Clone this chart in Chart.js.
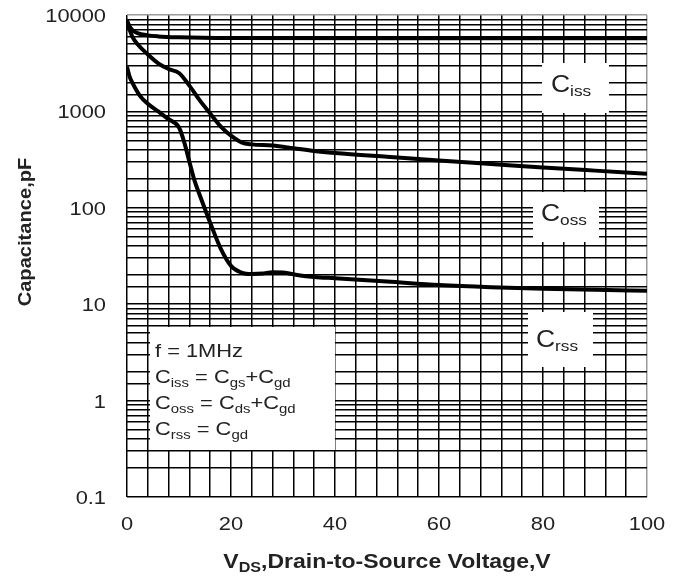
<!DOCTYPE html>
<html>
<head>
<meta charset="utf-8">
<script src="https://cdn.jsdelivr.net/npm/chart.js@4.4.1/dist/chart.umd.min.js"></script>
<style>
  html, body { margin: 0; padding: 0; background: #fff; }
  #wrap { width: 681px; height: 577px; }
</style>
</head>
<body>
<div id="wrap"><canvas id="cap" width="681" height="577"></canvas></div>
<script>
// capacitance vs VDS, f = 1MHz
const vdsCiss = [0, 0.5, 1, 2, 4, 6, 10, 20, 50, 100];
const ciss    = [8800, 7600, 7000, 6500, 6150, 6000, 5880, 5780, 5750, 5750];

const vdsCoss = [0, 1, 2, 4, 6, 8, 10, 12, 14, 16, 18, 20, 22, 24, 28, 32, 36, 40, 50, 60, 70, 80, 90, 100];
const coss    = [8400, 6000, 5000, 3900, 3150, 2750, 2500, 1850, 1300, 950, 700, 560, 478, 455, 442, 415, 388, 370, 338, 310, 285, 262, 243, 226];

const vdsCrss = [0, 0.5, 1, 2.5, 4, 6, 8, 10, 11, 12, 13, 14, 16, 18, 20, 22, 24, 26, 28, 30, 33, 36, 40, 50, 60, 70, 80, 90, 100];
const crss    = [2900, 2300, 2000, 1450, 1200, 1000, 830, 680, 480, 300, 190, 135, 70, 38, 25, 21.3, 20.6, 20.8, 21.5, 21.3, 20, 19.2, 18.6, 17.2, 15.8, 15, 14.5, 14.1, 13.8];

const xTickLabels = [0, 20, 40, 60, 80, 100];
const yTickLabels = [0.1, 1, 10, 100, 1000, 10000];

function pts(xs, ys) {
    return xs.map((x, i) => ({ x: x, y: ys[i] }));
}

const FONT = "'Liberation Sans', Arial, sans-serif";
const SX = 1.15;   // glyphs are a bit wide in this sheet

// draw a run of [text, isSub] pieces; align 'left' | 'center' | 'right'
function drawRich(ctx, parts, x, y, size, subSize, bold, align) {
    const w = richWidth(ctx, parts, size, subSize, bold);
    let x0 = x;
    if (align === 'center') x0 = x - w / 2;
    if (align === 'right') x0 = x - w;
    ctx.save();
    ctx.translate(x0, y);
    ctx.scale(SX, 1);
    ctx.fillStyle = '#222';
    ctx.textBaseline = 'alphabetic';
    ctx.textAlign = 'left';
    let cx = 0;
    for (const [t, sub] of parts) {
        ctx.font = (bold ? 'bold ' : '') + (sub ? subSize : size) + 'px ' + FONT;
        ctx.fillText(t, cx, sub ? 4 : 0);
        cx += ctx.measureText(t).width;
    }
    ctx.restore();
    return w;
}

function richWidth(ctx, parts, size, subSize, bold) {
    let w = 0;
    ctx.save();
    for (const [t, sub] of parts) {
        ctx.font = (bold ? 'bold ' : '') + (sub ? subSize : size) + 'px ' + FONT;
        w += ctx.measureText(t).width;
    }
    ctx.restore();
    return w * SX;
}

const boxes = [
    [542, 63, 67, 50],
    [533, 192, 66, 50],
    [528, 312, 65, 55],
    [150, 327, 185, 123]
];

const notes = {
    id: 'notes',
    beforeDatasetsDraw(chart) {
        const ctx = chart.ctx;
        ctx.save();
        ctx.fillStyle = '#fff';
        for (const b of boxes) ctx.fillRect(b[0], b[1], b[2], b[3]);
        ctx.restore();
    },
    afterDraw(chart) {
        const ctx = chart.ctx;
        const xs = chart.scales.x, ys = chart.scales.y;

        // tick labels, placed by the scales
        xs.ticks.forEach((t, i) => {
            if (!xTickLabels.includes(t.value)) return;
            drawRich(ctx, [[String(t.value), 0]], xs.getPixelForTick(i), 530, 19, 13, false, 'center');
        });
        ys.ticks.forEach((t, i) => {
            const hit = yTickLabels.find(v => Math.abs(v - t.value) < v * 1e-6);
            if (hit === undefined) return;
            drawRich(ctx, [[String(hit), 0]], 106, ys.getPixelForTick(i) + 7, 19, 13, false, 'right');
        });

        // curve names
        drawRich(ctx, [['C', 0], ['iss', 1]], 551, 92, 23, 15);
        drawRich(ctx, [['C', 0], ['oss', 1]], 541, 221, 23, 15);
        drawRich(ctx, [['C', 0], ['rss', 1]], 536, 347, 23, 15);

        // conditions box
        const s = 19, ss = 13;
        drawRich(ctx, [['f = 1MHz', 0]], 155, 357, s, ss);
        drawRich(ctx, [['C', 0], ['iss', 1], [' = C', 0], ['gs', 1], ['+C', 0], ['gd', 1]], 155, 383, s, ss);
        drawRich(ctx, [['C', 0], ['oss', 1], [' = C', 0], ['ds', 1], ['+C', 0], ['gd', 1]], 155, 409, s, ss);
        drawRich(ctx, [['C', 0], ['rss', 1], [' = C', 0], ['gd', 1]], 155, 435, s, ss);

        // axis titles
        const ca = chart.chartArea;
        drawRich(ctx, [['V', 0], ['DS', 1], [',Drain-to-Source Voltage,V', 0]],
                 (ca.left + ca.right) / 2, 568, 20, 14, true, 'center');

        ctx.save();
        ctx.translate(31, 232);
        ctx.rotate(-Math.PI / 2);
        drawRich(ctx, [['Capacitance,pF', 0]], 0, 0, 17.5, 13, true, 'center');
        ctx.restore();
    }
};

const lineStyle = {
    borderColor: '#000',
    borderWidth: 4,
    pointRadius: 0,
    fill: false,
    cubicInterpolationMode: 'monotone'
};

const ctx = document.getElementById('cap').getContext('2d');
const chart = new Chart(ctx, {
    type: 'line',
    data: {
        datasets: [
            Object.assign({ label: 'Ciss', data: pts(vdsCiss, ciss) }, lineStyle),
            Object.assign({ label: 'Coss', data: pts(vdsCoss, coss) }, lineStyle),
            Object.assign({ label: 'Crss', data: pts(vdsCrss, crss) }, lineStyle)
        ]
    },
    options: {
        responsive: false,
        animation: false,
        layout: { padding: { top: 15, right: 34, left: 0, bottom: 0 } },
        plugins: { legend: { display: false }, tooltip: { enabled: false } },
        scales: {
            x: {
                type: 'linear',
                min: 0,
                max: 100,
                afterFit(scale) {
                    scale.height = 80;
                    scale.paddingLeft = 0;
                    scale.paddingRight = 0;
                },
                border: { display: false },
                grid: {
                    color: (c) => (c.tick && c.tick.value === 100) ? '#999' : '#000',
                    lineWidth: 1.5,
                    drawTicks: false
                },
                ticks: {
                    display: false,
                    stepSize: 4,
                    autoSkip: false,
                    maxRotation: 0
                }
            },
            y: {
                type: 'logarithmic',
                min: 0.1,
                max: 10000,
                afterFit(scale) {
                    scale.width = 127;
                    scale.paddingTop = 0;
                    scale.paddingBottom = 0;
                },
                border: { display: false },
                grid: {
                    color: (c) => (c.tick && c.tick.value === 10000) ? '#999' : '#000',
                    lineWidth: 1.5,
                    drawTicks: false
                },
                ticks: {
                    display: false,
                    autoSkip: false
                }
            }
        }
    },
    plugins: [notes]
});
</script>
</body>
</html>
